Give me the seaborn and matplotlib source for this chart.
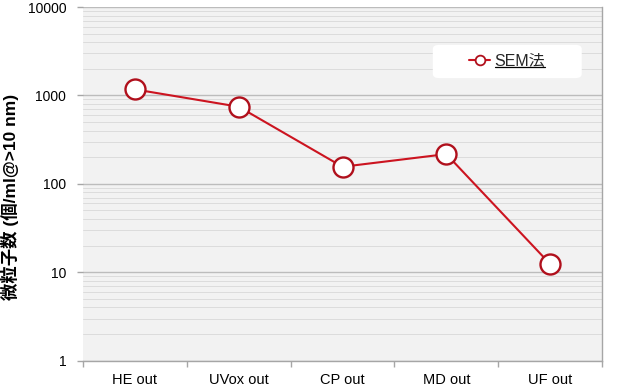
import matplotlib
matplotlib.use('Agg')
import matplotlib.pyplot as plt
import seaborn as sns
import pandas as pd
import numpy as np
from matplotlib.lines import Line2D
from matplotlib.patches import FancyBboxPatch
from matplotlib.ticker import LogLocator, FixedLocator, NullFormatter

# ---- data ----
categories = ["HE out", "UVox out", "CP out", "MD out", "UF out"]
sem_values = [1170, 745, 156, 217, 12.4]
series_name = "SEM法"
y_ticks = [1, 10, 100, 1000, 10000]
y_tick_labels = ["1", "10", "100", "1000", "10000"]
y_label = "微粒子数 (個/ml@>10 nm)"

sns.set_theme(style="white")
plt.rcParams['font.family'] = ['Liberation Sans', 'Noto Sans CJK JP', 'DejaVu Sans']

df = pd.DataFrame({"stage": categories, "count": sem_values})

W, H = 623, 391
fig = plt.figure(figsize=(W / 100, H / 100), dpi=100)
ax = fig.add_axes([83 / W, 1 - 360.7 / H, (602 - 83) / W, (360.7 - 7) / H])
ax.set_facecolor('#f2f2f2')

red = '#cc1420'
edge_red = '#b0101c'
sns.lineplot(data=df, x="stage", y="count", ax=ax, color=red, lw=1.5,
             marker='o', markersize=14.4, markerfacecolor='white',
             markeredgecolor=edge_red, markeredgewidth=1.7, sort=False,
             legend=False, zorder=5)

ax.set_yscale('log')
ax.set_ylim(1, 10000)
ax.set_xlim(-0.5, len(categories) - 0.5)

ax.yaxis.set_major_locator(FixedLocator(y_ticks))
ax.set_yticklabels(y_tick_labels)
ax.yaxis.set_minor_locator(LogLocator(base=10, subs=np.arange(2, 10)))
ax.yaxis.set_minor_formatter(NullFormatter())

ax.set_xticks(range(len(categories)))
ax.set_xticklabels(categories)
ax.set_xticks(np.arange(-0.5, len(categories)), minor=True)

ax.grid(False)
ax.grid(which='major', axis='y', color='#bcbcbc', lw=1.0)
ax.grid(which='minor', axis='y', color='#dcdcdc', lw=0.7)
ax.set_axisbelow(True)

ax.tick_params(axis='y', which='major', length=4, width=1, color='#a6a6a6',
               labelsize=10, pad=8, left=True, labelcolor='black')
ax.tick_params(axis='y', which='minor', length=0)
ax.tick_params(axis='x', which='major', length=0, labelsize=10.5, pad=9,
               labelcolor='black')
ax.tick_params(axis='x', which='minor', length=4, width=1, color='#a6a6a6',
               bottom=True)

for s in ['left', 'top']:
    ax.spines[s].set_visible(False)
for s in ['bottom', 'right']:
    ax.spines[s].set_visible(True)
    ax.spines[s].set_color('#a6a6a6')
    ax.spines[s].set_linewidth(1.0)

ax.set_xlabel('')
ax.set_ylabel('')

fig.text(10 / W, 0.496, y_label, rotation=90, ha='center', va='center',
         fontsize=12.5, fontweight='bold', color='black')

# legend box
bx0, by0, bw, bh = 0.674, 0.799, 0.287, 0.094
box = FancyBboxPatch((bx0, by0), bw, bh, boxstyle="round,pad=0,rounding_size=0.012",
                     transform=ax.transAxes, facecolor='white', edgecolor='none',
                     zorder=6)
ax.add_patch(box)
handle = Line2D([], [], color=red, lw=1.5, marker='o', markersize=7,
                markerfacecolor='white', markeredgecolor=edge_red,
                markeredgewidth=1.3, label=series_name)
leg = ax.legend(handles=[handle], loc='center',
                bbox_to_anchor=(bx0 + bw / 2, by0 + bh / 2),
                frameon=False, fontsize=11.5, handlelength=1.3,
                handletextpad=0.3, borderaxespad=0)
leg.set_zorder(7)

fig.canvas.draw()
txt = leg.get_texts()[0]
bb = txt.get_window_extent()
inv = fig.transFigure.inverted()
(x0, y0) = inv.transform((bb.x0, bb.y0 + 2))
(x1, _) = inv.transform((bb.x1, bb.y0 + 2))
fig.add_artist(Line2D([x0, x1], [y0, y0], transform=fig.transFigure,
                      color='black', lw=0.9, zorder=8))

fig.savefig('out.png', dpi=100)
